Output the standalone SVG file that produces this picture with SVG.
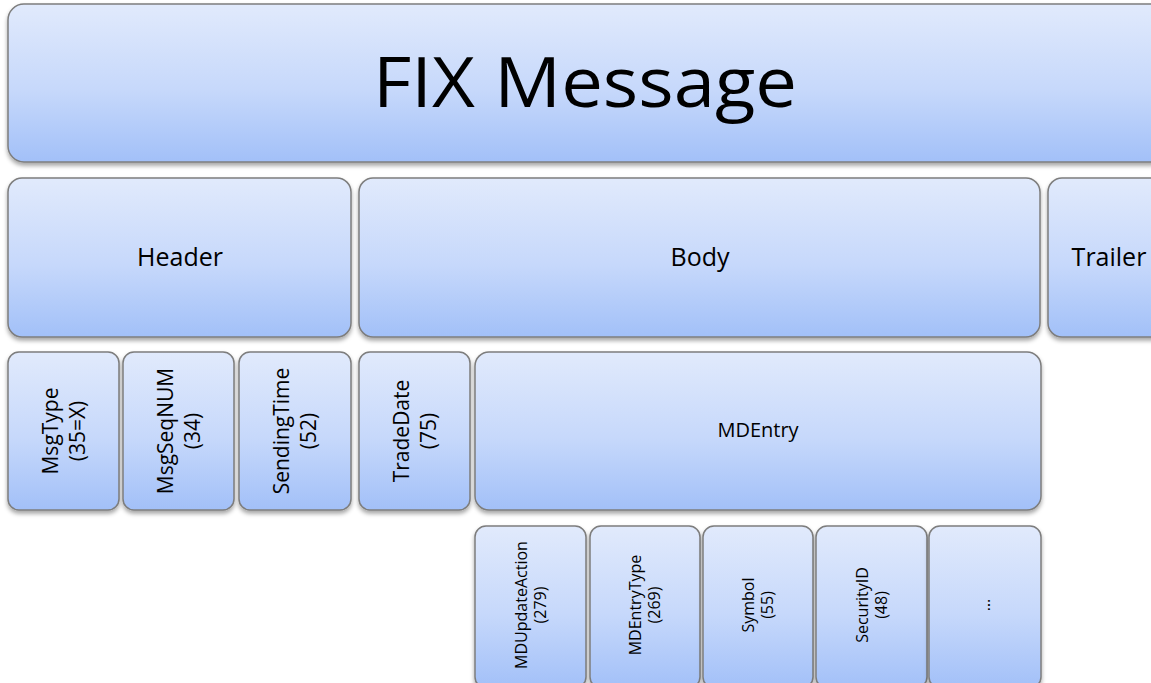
<svg xmlns="http://www.w3.org/2000/svg" width="1151" height="683" viewBox="0 0 1151 683">
<defs>
<linearGradient id="g" x1="0" y1="0" x2="0" y2="1">
<stop offset="0" stop-color="#e1eafc"/>
<stop offset="0.55" stop-color="#c6d8fb"/>
<stop offset="1" stop-color="#a2c0f8"/>
</linearGradient>
<filter id="sh" x="-10%" y="-10%" width="120%" height="130%">
<feDropShadow dx="0" dy="3" stdDeviation="2" flood-color="#000" flood-opacity="0.35"/>
</filter>
</defs>
<style>
.b{fill:url(#g);stroke:#7d7d7d;stroke-width:1.5;filter:url(#sh)}
text{font-family:"Open Sans","Liberation Sans",sans-serif;fill:#000;text-anchor:middle}
.t1{font-size:70px}
.t2{font-size:25px}
.t3{font-size:21px}
.t4{font-size:20px}
.t5{font-size:16px}
</style>
<rect width="1151" height="683" fill="#fff"/>
<g id="fix-message"><rect class="b" x="8" y="4" width="1160" height="158" rx="16"/><text class="t1" x="585" y="107" textLength="424" lengthAdjust="spacingAndGlyphs">FIX Message</text></g>
<g id="header"><rect class="b" x="8" y="178" width="343" height="159" rx="14"/><text class="t2" x="180" y="266">Header</text></g>
<g id="body"><rect class="b" x="359" y="178" width="681" height="159" rx="14"/><text class="t2" x="700" y="266">Body</text></g>
<g id="trailer"><rect class="b" x="1048" y="178" width="130" height="159" rx="14"/><text class="t2" x="1109" y="266">Trailer</text></g>
<g id="msgtype"><rect class="b" x="8" y="352" width="111" height="158" rx="11"/><text class="t3" transform="translate(63.5,431) rotate(-90)"><tspan x="0" y="-6">MsgType</tspan><tspan x="0" y="21">(35=X)</tspan></text></g>
<g id="msgseqnum"><rect class="b" x="123" y="352" width="111" height="158" rx="11"/><text class="t3" transform="translate(178.5,431) rotate(-90)"><tspan x="0" y="-6">MsgSeqNUM</tspan><tspan x="0" y="21">(34)</tspan></text></g>
<g id="sendingtime"><rect class="b" x="239" y="352" width="112" height="158" rx="11"/><text class="t3" transform="translate(295,431) rotate(-90)"><tspan x="0" y="-6">SendingTime</tspan><tspan x="0" y="21">(52)</tspan></text></g>
<g id="tradedate"><rect class="b" x="359" y="352" width="111" height="158" rx="11"/><text class="t3" transform="translate(414.5,431) rotate(-90)"><tspan x="0" y="-6">TradeDate</tspan><tspan x="0" y="21">(75)</tspan></text></g>
<g id="mdentry"><rect class="b" x="475" y="352" width="566" height="158" rx="14"/><text class="t4" x="758" y="437">MDEntry</text></g>
<g id="mdupdateaction"><rect class="b" x="475" y="526" width="111" height="162" rx="11"/><text class="t5" transform="translate(530.5,605) rotate(-90)"><tspan x="0" y="-4">MDUpdateAction</tspan><tspan x="0" y="15">(279)</tspan></text></g>
<g id="mdentrytype"><rect class="b" x="590" y="526" width="110" height="162" rx="11"/><text class="t5" transform="translate(645,605) rotate(-90)"><tspan x="0" y="-4">MDEntryType</tspan><tspan x="0" y="15">(269)</tspan></text></g>
<g id="symbol"><rect class="b" x="703" y="526" width="110" height="162" rx="11"/><text class="t5" transform="translate(758,605) rotate(-90)"><tspan x="0" y="-4">Symbol</tspan><tspan x="0" y="15">(55)</tspan></text></g>
<g id="securityid"><rect class="b" x="816" y="526" width="111" height="162" rx="11"/><text class="t5" transform="translate(871.5,605) rotate(-90)"><tspan x="0" y="-4">SecurityID</tspan><tspan x="0" y="15">(48)</tspan></text></g>
<g id="more"><rect class="b" x="929" y="526" width="112" height="162" rx="11"/><text class="t5" transform="translate(985,605) rotate(-90)"><tspan x="0" y="5">…</tspan></text></g>
<g id="connectors"/>
</svg>
